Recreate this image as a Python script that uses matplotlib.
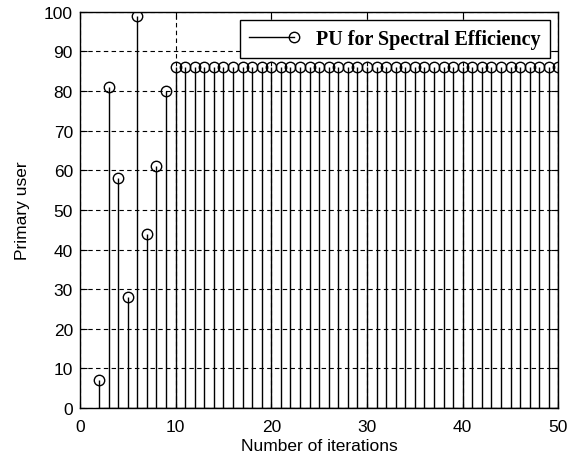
import matplotlib
matplotlib.use("Agg")
import matplotlib.pyplot as plt
from matplotlib.lines import Line2D
from matplotlib.legend_handler import HandlerBase

iterations = list(range(2, 51))
primary_user = [7, 81, 58, 28, 99, 44, 61, 80] + [86] * 41
x_ticks = [0, 10, 20, 30, 40, 50]
y_ticks = [0, 10, 20, 30, 40, 50, 60, 70, 80, 90, 100]

plt.rcParams['font.family'] = ['Liberation Sans', 'DejaVu Sans']

fig = plt.figure(figsize=(5.71, 4.60), dpi=100)
ax = fig.add_axes([0.140, 0.111, 0.838, 0.861])

ax.set_xlim(0, 50)
ax.set_ylim(0, 100)
ax.set_xticks(x_ticks)
ax.set_yticks(y_ticks)
ax.grid(True, color='black', linestyle=(0, (4, 3)), linewidth=0.8)
ax.set_axisbelow(True)

ml, sl, bl = ax.stem(iterations, primary_user, linefmt='k-', markerfmt='ko', basefmt='k-')
plt.setp(sl, linewidth=1.0)
plt.setp(ml, markerfacecolor='none', markeredgecolor='black', markersize=7.5, markeredgewidth=1.0)
plt.setp(bl, linewidth=1.0)

for s in ax.spines.values():
    s.set_linewidth(1.0)
ax.tick_params(direction='in', top=True, right=True, length=5, labelsize=12.5, width=0.8)
ax.tick_params(axis='x', pad=8)
ax.tick_params(axis='y', pad=5)

ax.set_xlabel('Number of iterations', fontsize=12.5, labelpad=2.5)
ax.set_ylabel('Primary user', fontsize=12.5, labelpad=10)


class StemHandler(HandlerBase):
    def create_artists(self, legend, orig_handle, xdescent, ydescent, width, height, fontsize, trans):
        y = height / 2 - ydescent
        x0, x1 = -xdescent, width - xdescent
        line = Line2D([x0, x1 - 4], [y, y], color='black', linewidth=1.0)
        mk = Line2D([x1 - 4], [y], marker='o', markerfacecolor='none', markeredgecolor='black',
                    markersize=7.5, markeredgewidth=1.0, linestyle='none')
        line.set_transform(trans)
        mk.set_transform(trans)
        return [line, mk]


handle = Line2D([], [])
leg = ax.legend([handle], ['PU for Spectral Efficiency'], loc='upper right',
                handler_map={Line2D: StemHandler()},
                handlelength=2.5, handletextpad=0.85, fancybox=False, framealpha=1,
                edgecolor='black', borderaxespad=0.42, borderpad=0.45,
                prop={'family': 'Liberation Serif', 'weight': 'bold', 'size': 14.5})
leg.get_frame().set_linewidth(1.0)

fig.savefig('out.png', dpi=100)
